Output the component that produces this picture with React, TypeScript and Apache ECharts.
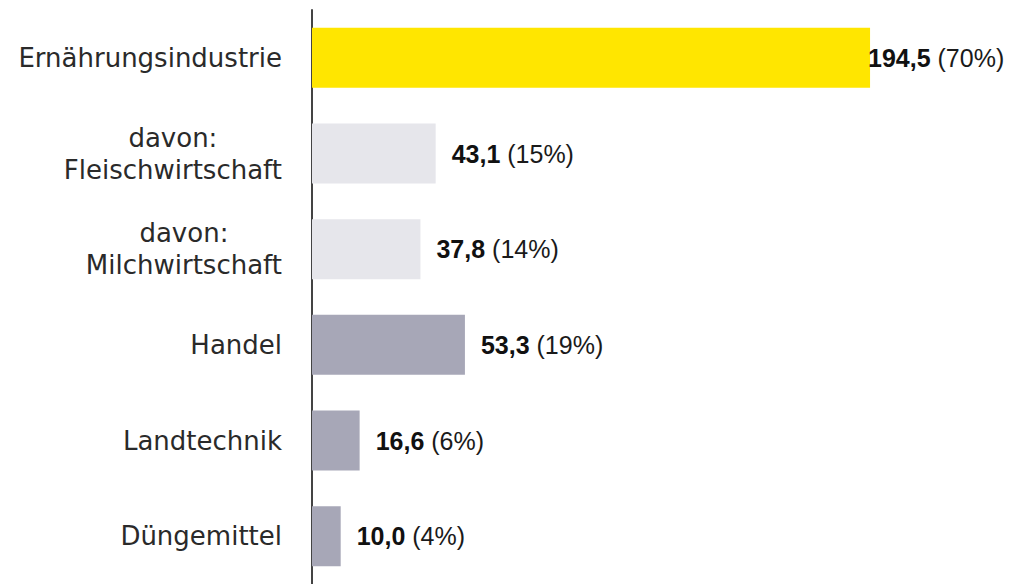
import React, { useEffect, useRef } from "react";
import * as echarts from "echarts";

const categories = [
  "Ernährungsindustrie",
  "davon:\nFleischwirtschaft",
  "davon:\nMilchwirtschaft",
  "Handel",
  "Landtechnik",
  "Düngemittel",
];
const values = [194.5, 43.1, 37.8, 53.3, 16.6, 10.0];
const percents = ["70%", "15%", "14%", "19%", "6%", "4%"];
const colors = ["#FFE600", "#E6E6EB", "#E6E6EB", "#A7A7B7", "#A7A7B7", "#A7A7B7"];

export default function App() {
  const ref = useRef<HTMLDivElement>(null);
  useEffect(() => {
    document.body.style.margin = "0";
    const chart = echarts.init(ref.current!, null, { renderer: "svg" });
    chart.setOption({
      animation: false,
      grid: { left: 312, right: 16.4, top: 10, bottom: -3, containLabel: false },
      xAxis: { type: "value", min: 0, max: 240, show: false },
      yAxis: {
        type: "category",
        inverse: true,
        data: categories,
        axisTick: { show: false },
        axisLine: { show: true, lineStyle: { color: "#444444", width: 2 } },
        splitLine: { show: false },
        axisLabel: {
          margin: 30,
          formatter: (v: string) =>
            v
              .split("\n")
              .map((s) => `{c|${s}}`)
              .join("\n"),
          rich: {
            c: {
              align: "center",
              fontFamily: "DejaVu Sans",
              fontSize: 26,
              lineHeight: 32,
              color: "#2a2a2a",
            },
          },
        },
      },
      series: [
        {
          type: "bar",
          barWidth: 60,
          data: values.map((v, i) => ({
            value: v,
            itemStyle: { color: colors[i] },
            label: i === 0 ? { distance: -2 } : undefined,
          })),
          label: {
            show: true,
            position: "right",
            distance: 16,
            formatter: (p: any) =>
              `{b|${values[p.dataIndex].toFixed(1).replace(".", ",")}}{n| (${percents[p.dataIndex]})}`,
            rich: {
              b: {
                fontFamily: "Liberation Sans",
                fontSize: 25,
                fontWeight: "bold",
                color: "#111111",
              },
              n: {
                fontFamily: "Liberation Sans",
                fontSize: 25,
                color: "#1a1a1a",
              },
            },
          },
        },
      ],
    });
    return () => chart.dispose();
  }, []);
  return <div ref={ref} style={{ width: 1017, height: 584 }} />;
}
